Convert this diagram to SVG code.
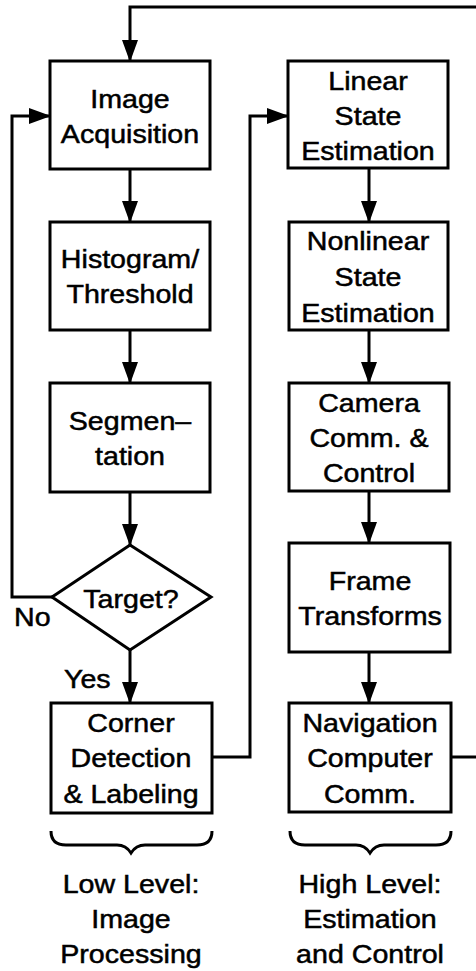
<svg xmlns="http://www.w3.org/2000/svg" width="476" height="971" viewBox="0 0 476 971">
<style>
.box{fill:#fff;stroke:#000;stroke-width:3}
.ln{fill:none;stroke:#000;stroke-width:3}
.t{font-family:"Liberation Sans",Arial,Helvetica,sans-serif;font-size:26px;fill:#000;stroke:#000;stroke-width:0.5;text-anchor:middle}
.l{font-family:"Liberation Sans",Arial,Helvetica,sans-serif;font-size:26px;fill:#000;stroke:#000;stroke-width:0.5}
</style>
<defs>
<marker id="ah" markerUnits="userSpaceOnUse" markerWidth="22" markerHeight="16" viewBox="0 0 22 16" refX="21" refY="8" orient="auto">
<path d="M0,0 L22,8 L0,16 z" fill="#000"/>
</marker>
</defs>
<rect width="476" height="971" fill="#fff"/>
<g id="connectors">
<path class="ln" d="M480,757 L480,7 L130,7 L130,61" marker-end="url(#ah)"/>
<path class="ln" d="M130,169 L130,222" marker-end="url(#ah)"/>
<path class="ln" d="M130,330 L130,383" marker-end="url(#ah)"/>
<path class="ln" d="M130,492 L130,545" marker-end="url(#ah)"/>
<path class="ln" d="M130,650 L130,703" marker-end="url(#ah)"/>
<path class="ln" d="M52,597 L12,597 L12,116 L50,116" marker-end="url(#ah)"/>
<path class="ln" d="M212,757 L250,757 L250,116 L288,116" marker-end="url(#ah)"/>
<path class="ln" d="M369,168 L369,222" marker-end="url(#ah)"/>
<path class="ln" d="M369,330 L369,383" marker-end="url(#ah)"/>
<path class="ln" d="M369,491 L369,543" marker-end="url(#ah)"/>
<path class="ln" d="M369,652 L369,703" marker-end="url(#ah)"/>
<path class="ln" d="M451,757 L480,757"/>
<text class="l" transform="translate(14,0) scale(1.1,1)" y="626">No</text>
<text class="l" transform="translate(64,0) scale(1.1,1)" y="688">Yes</text>
</g>
<g id="image-acquisition">
<rect class="box" x="50" y="61" width="160" height="108"/>
<text class="t" transform="translate(130,0) scale(1.1,1)"><tspan x="0" y="108">Image</tspan><tspan x="0" y="143">Acquisition</tspan></text>
</g>
<g id="histogram">
<rect class="box" x="50" y="222" width="160" height="108"/>
<text class="t" transform="translate(130,0) scale(1.1,1)"><tspan x="0" y="268">Histogram/</tspan><tspan x="0" y="303">Threshold</tspan></text>
</g>
<g id="segmentation">
<rect class="box" x="50" y="383" width="160" height="109"/>
<text class="t" transform="translate(130,0) scale(1.1,1)"><tspan x="0" y="430">Segmen–</tspan><tspan x="0" y="465">tation</tspan></text>
</g>
<g id="target">
<path class="box" d="M130,545 L211,597 L130,650 L52,597 Z"/>
<text class="t" transform="translate(131,0) scale(1.1,1)"><tspan x="0" y="608">Target?</tspan></text>
</g>
<g id="corner-detection">
<rect class="box" x="51" y="703" width="161" height="110"/>
<text class="t" transform="translate(131,0) scale(1.1,1)"><tspan x="0" y="732">Corner</tspan><tspan x="0" y="767">Detection</tspan><tspan x="0" y="803">&amp; Labeling</tspan></text>
</g>
<g id="linear-state">
<rect class="box" x="288" y="61" width="160" height="107"/>
<text class="t" transform="translate(368,0) scale(1.1,1)"><tspan x="0" y="90">Linear</tspan><tspan x="0" y="125">State</tspan><tspan x="0" y="160">Estimation</tspan></text>
</g>
<g id="nonlinear-state">
<rect class="box" x="289" y="222" width="159" height="108"/>
<text class="t" transform="translate(368,0) scale(1.1,1)"><tspan x="0" y="250">Nonlinear</tspan><tspan x="0" y="286">State</tspan><tspan x="0" y="322">Estimation</tspan></text>
</g>
<g id="camera">
<rect class="box" x="289" y="383" width="160" height="108"/>
<text class="t" transform="translate(369,0) scale(1.1,1)"><tspan x="0" y="412">Camera</tspan><tspan x="0" y="447">Comm. &amp;</tspan><tspan x="0" y="482">Control</tspan></text>
</g>
<g id="frame-transforms">
<rect class="box" x="289" y="543" width="161" height="109"/>
<text class="t" transform="translate(370,0) scale(1.1,1)"><tspan x="0" y="590">Frame</tspan><tspan x="0" y="625">Transforms</tspan></text>
</g>
<g id="navigation">
<rect class="box" x="289" y="703" width="162" height="109"/>
<text class="t" transform="translate(370,0) scale(1.1,1)"><tspan x="0" y="732">Navigation</tspan><tspan x="0" y="767">Computer</tspan><tspan x="0" y="803">Comm.</tspan></text>
</g>
<g id="low-level">
<path class="ln" d="M51,831 Q51,845 66,845 L117,845 Q126,845 131,853 Q136,845 145,845 L197,845 Q212,845 212,831"/>
<text class="t" transform="translate(131,0) scale(1.1,1)"><tspan x="0" y="893">Low Level:</tspan><tspan x="0" y="928">Image</tspan><tspan x="0" y="963">Processing</tspan></text>
</g>
<g id="high-level">
<path class="ln" d="M290,831 Q290,845 305,845 L356,845 Q365,845 370,853 Q375,845 384,845 L436,845 Q451,845 451,831"/>
<text class="t" transform="translate(370,0) scale(1.1,1)"><tspan x="0" y="893">High Level:</tspan><tspan x="0" y="928">Estimation</tspan><tspan x="0" y="963">and Control</tspan></text>
</g>
</svg>
